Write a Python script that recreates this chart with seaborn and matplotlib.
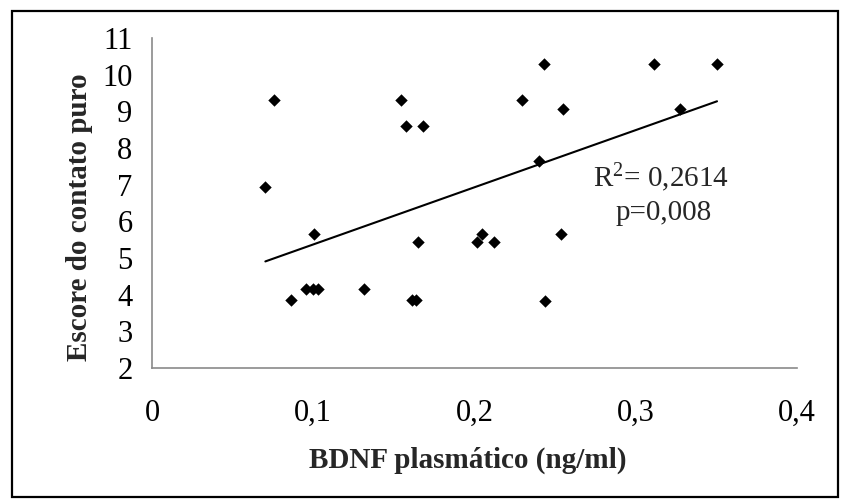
import matplotlib
matplotlib.use("Agg")
import matplotlib.pyplot as plt
import seaborn as sns
import pandas as pd

# Data
bdnf = [0.0703, 0.0755, 0.0860, 0.0953, 0.0997, 0.1031, 0.1007, 0.1313,
        0.1544, 0.1575, 0.1680, 0.1610, 0.1637, 0.1652, 0.2013, 0.2045,
        0.2123, 0.2293, 0.2398, 0.2429, 0.2439, 0.2535, 0.2547, 0.3113,
        0.3272, 0.3504]
escore = [6.94, 9.30, 3.85, 4.16, 4.16, 4.16, 5.65, 4.16,
          9.30, 8.59, 8.59, 3.85, 3.85, 5.45, 5.45, 5.65,
          5.44, 9.30, 7.64, 10.28, 3.84, 5.65, 9.07, 10.28,
          9.07, 10.28]
x_ticks = [0, 0.1, 0.2, 0.3, 0.4]
x_ticklabels = ["0", "0,1", "0,2", "0,3", "0,4"]
y_ticks = [2, 3, 4, 5, 6, 7, 8, 9, 10, 11]
annot_r2 = "R$^{2}$= 0,2614"
annot_p = "p=0,008"

df = pd.DataFrame({"BDNF": bdnf, "Escore": escore})

sns.set_theme(style="white")
plt.rcParams["font.family"] = ["Liberation Serif", "DejaVu Serif"]
plt.rcParams["mathtext.fontset"] = "custom"
plt.rcParams["mathtext.rm"] = "Liberation Serif"
plt.rcParams["mathtext.it"] = "Liberation Serif"
plt.rcParams["mathtext.default"] = "regular"

fig = plt.figure(figsize=(8.45, 5.03), dpi=100)
ax = fig.add_axes([152 / 845, 1 - 368 / 503, 645 / 845, 330 / 503])

sns.regplot(data=df, x="BDNF", y="Escore", ax=ax, ci=None, truncate=True,
            scatter=False, line_kws={"color": "black", "linewidth": 1.5})
sns.scatterplot(data=df, x="BDNF", y="Escore", ax=ax, marker="D", s=40,
                color="black", edgecolor="black", linewidth=0, zorder=3)

ax.set_xlim(0, 0.4)
ax.set_ylim(2, 11)
ax.set_xticks(x_ticks)
ax.set_xticklabels(x_ticklabels)
ax.set_yticks(y_ticks)
ax.tick_params(axis="both", length=0, labelsize=22, colors="black")
ax.tick_params(axis="y", pad=14)
ax.tick_params(axis="x", pad=22)

for s in ["top", "right"]:
    ax.spines[s].set_visible(False)
for s in ["left", "bottom"]:
    ax.spines[s].set_color("#8a8a8a")
    ax.spines[s].set_linewidth(1.2)

ax.set_xlabel("BDNF plasmático (ng/ml)", fontsize=21, fontweight="bold")
ax.set_ylabel("Escore do contato puro", fontsize=21, fontweight="bold")
ax.xaxis.set_label_coords(0.489, -0.238)
ax.yaxis.set_label_coords(-0.092, 0.457)

ax.text(0.3157, 6.94, annot_r2, fontsize=21, ha="center", va="baseline")
ax.text(0.3175, 6.04, annot_p, fontsize=21, ha="center", va="baseline")

# outer frame
fig.patches.append(plt.Rectangle((12 / 845, 1 - 497 / 503), 826 / 845, 486 / 503,
                                 transform=fig.transFigure, fill=False,
                                 edgecolor="black", linewidth=1.6))

fig.savefig("out.png", dpi=100)
